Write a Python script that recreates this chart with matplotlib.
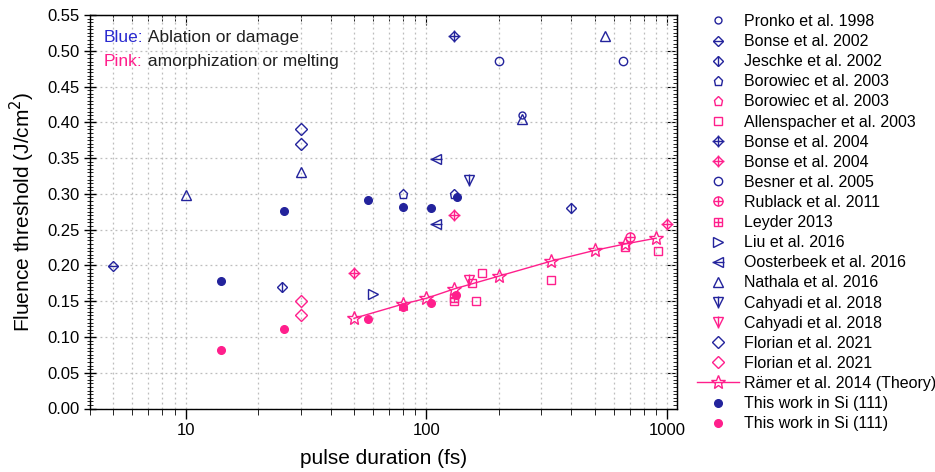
import matplotlib
matplotlib.use("Agg")
import matplotlib.pyplot as plt
from matplotlib.ticker import MultipleLocator, LogLocator, NullFormatter, FixedLocator, FixedFormatter
from matplotlib.legend_handler import HandlerTuple

plt.rcParams['font.family'] = ['Liberation Sans', 'DejaVu Sans']

BLUE = '#23239c'
PINK = '#ff1f8c'

# ---------------- data ----------------
pronko_x = [250]; pronko_y = [0.410]
bonse02_x = [5]; bonse02_y = [0.199]
jeschke_x = [25, 400]; jeschke_y = [0.170, 0.280]
borow_b_x = [80, 130]; borow_b_y = [0.300, 0.300]
borow_p_x = []; borow_p_y = []
allen_x = [130, 155, 160, 170, 330, 668, 920]
allen_y = [0.150, 0.175, 0.150, 0.190, 0.179, 0.226, 0.220]
bonse04_b_x = [130]; bonse04_b_y = [0.520]
bonse04_p_x = [50, 130, 1000]; bonse04_p_y = [0.190, 0.270, 0.258]
besner_x = [200, 655]; besner_y = [0.486, 0.486]
rublack_x = [700]; rublack_y = [0.240]
leyder_x = [130]; leyder_y = [0.155]
liu_x = [60]; liu_y = [0.160]
ooster_x = [110, 110]; ooster_y = [0.349, 0.258]
nathala_x = [10, 30, 250, 550]; nathala_y = [0.298, 0.330, 0.405, 0.520]
cahyadi_b_x = [150]; cahyadi_b_y = [0.320]
cahyadi_p_x = [150]; cahyadi_p_y = [0.179]
florian_b_x = [30, 30]; florian_b_y = [0.390, 0.370]
florian_p_x = [30, 30]; florian_p_y = [0.150, 0.130]
ramer_x = [50, 80, 100, 130, 200, 330, 500, 670, 900]
ramer_y = [0.126, 0.146, 0.154, 0.167, 0.185, 0.206, 0.221, 0.230, 0.238]
work_b_x = [14, 25.6, 57, 80, 105, 134]
work_b_y = [0.178, 0.276, 0.292, 0.281, 0.280, 0.296]
work_p_x = [14, 25.6, 57, 80, 105, 133]
work_p_y = [0.082, 0.111, 0.125, 0.142, 0.147, 0.158]

labels = ["Pronko et al. 1998", "Bonse et al. 2002", "Jeschke et al. 2002",
          "Borowiec et al. 2003", "Borowiec et al. 2003", "Allenspacher et al. 2003",
          "Bonse et al. 2004", "Bonse et al. 2004", "Besner et al. 2005",
          "Rublack et al. 2011", "Leyder 2013", "Liu et al. 2016",
          "Oosterbeek et al. 2016", "Nathala et al. 2016", "Cahyadi et al. 2018",
          "Cahyadi et al. 2018", "Florian et al. 2021", "Florian et al. 2021",
          "Rämer et al. 2014 (Theory)", "This work in Si (111)", "This work in Si (111)"]

xticks = [10, 100, 1000]
xticklabels = ["10", "100", "1000"]

# ---------------- figure ----------------
fig = plt.figure(figsize=(9.35, 4.72), dpi=100)
ax = fig.add_axes([90/935, 1 - 408.5/472, (677-90)/935, (408.5-15)/472])

def series(x, y, color, markers, ms=6, mew=1.0, filled=False, ls='none'):
    arts = []
    for i, m in enumerate(markers):
        if isinstance(m, tuple):
            m, s = m
        else:
            s = ms
        fc = color if (filled and i == 0) else 'none'
        if m in ('+', '_', '|', 'x'):
            fc = color
        line, = ax.plot(x, y, ls=ls if i == 0 else 'none', color=color, marker=m,
                        ms=s, mfc=fc, mec=color, mew=mew, lw=1.0, clip_on=False)
        arts.append(line)
    return tuple(arts)

handles = []
handles.append(series(pronko_x, pronko_y, BLUE, [('o', 5)]))
handles.append(series(bonse02_x, bonse02_y, BLUE, [('D', 5.5), ('_', 7)]))
handles.append(series(jeschke_x, jeschke_y, BLUE, [('D', 5.5), ('|', 7)]))
handles.append(series(borow_b_x, borow_b_y, BLUE, [('p', 6.5)]))
handles.append(series(borow_p_x, borow_p_y, PINK, [('p', 6.5)]))
handles.append(series(allen_x, allen_y, PINK, [('s', 6)]))
handles.append(series(bonse04_b_x, bonse04_b_y, BLUE, [('D', 5.5), ('+', 8)]))
handles.append(series(bonse04_p_x, bonse04_p_y, PINK, [('D', 5.5), ('+', 8)]))
handles.append(series(besner_x, besner_y, BLUE, [('o', 6)]))
handles.append(series(rublack_x, rublack_y, PINK, [('o', 6.5), ('+', 6.5)]))
handles.append(series(leyder_x, leyder_y, PINK, [('s', 6), ('+', 6)]))
handles.append(series(liu_x, liu_y, BLUE, [('>', 6.5)]))
handles.append(series(ooster_x, ooster_y, BLUE, [('<', 6.5), ('_', 8)]))
handles.append(series(nathala_x, nathala_y, BLUE, [('^', 7.5)]))
handles.append(series(cahyadi_b_x, cahyadi_b_y, BLUE, [('v', 7), ('|', 9)]))
handles.append(series(cahyadi_p_x, cahyadi_p_y, PINK, [('v', 7), ('|', 9)]))
handles.append(series(florian_b_x, florian_b_y, BLUE, [('D', 6.5)]))
handles.append(series(florian_p_x, florian_p_y, PINK, [('D', 6.5)]))
handles.append(series(ramer_x, ramer_y, PINK, [('*', 10)], ls='-'))
handles.append(series(work_b_x, work_b_y, BLUE, [('o', 5.5)], filled=True))
handles.append(series(work_p_x, work_p_y, PINK, [('o', 5.5)], filled=True))

# ---------------- axes ----------------
ax.set_xscale('log')
ax.set_xlim(4, 1100)
ax.set_ylim(0, 0.55)
ax.xaxis.set_major_locator(FixedLocator(xticks))
ax.xaxis.set_major_formatter(FixedFormatter(xticklabels))
ax.xaxis.set_minor_locator(LogLocator(base=10, subs=range(2, 10), numticks=20))
ax.xaxis.set_minor_formatter(NullFormatter())
ax.yaxis.set_major_locator(MultipleLocator(0.05))
ax.yaxis.set_minor_locator(MultipleLocator(0.005))
ax.yaxis.set_major_formatter(plt.FuncFormatter(lambda v, p: f"{v:.2f}"))

ax.grid(True, which='major', axis='both', ls=(0, (1.5, 2.5)), color='#bdbdbd', lw=0.9)
ax.grid(True, which='minor', axis='x', ls=(0, (1.5, 2.5)), color='#bdbdbd', lw=0.9)
ax.set_axisbelow(True)

ax.tick_params(axis='both', which='major', labelsize=12, width=1, color='black')
ax.tick_params(axis='x', which='major', direction='out', length=7)
ax.tick_params(axis='x', which='minor', direction='out', length=4)
ax.tick_params(axis='y', which='major', direction='inout', length=8)
ax.tick_params(axis='y', which='minor', direction='inout', length=4)
for sp in ax.spines.values():
    sp.set_linewidth(1.0)

# top and right axes with inward ticks
top = ax.secondary_xaxis('top')
top.set_xticks(xticks)
top.xaxis.set_minor_locator(LogLocator(base=10, subs=range(2, 10), numticks=20))
top.xaxis.set_minor_formatter(NullFormatter())
top.tick_params(axis='x', which='major', direction='in', length=7, labeltop=False)
top.tick_params(axis='x', which='minor', direction='in', length=4)
right = ax.secondary_yaxis('right')
right.yaxis.set_major_locator(MultipleLocator(0.05))
right.yaxis.set_minor_locator(MultipleLocator(0.005))
right.tick_params(axis='y', which='major', direction='in', length=7, labelright=False)
right.tick_params(axis='y', which='minor', direction='in', length=3)

ax.set_xlabel("pulse duration (fs)", fontsize=15, labelpad=8)
ax.set_ylabel("Fluence threshold (J/cm$^2$)", fontsize=15, labelpad=7)

# annotation text
t1 = ax.text(0.024, 0.942, "Blue:", color='#2a2ad0', fontsize=12.5,
             transform=ax.transAxes, va='center', ha='left')
ax.annotate(" Ablation or damage", xy=(1, 0.5), xycoords=t1, va='center', ha='left',
            fontsize=12.5, color='#202020')
t2 = ax.text(0.024, 0.883, "Pink:", color=PINK, fontsize=12.5,
             transform=ax.transAxes, va='center', ha='left')
ax.annotate(" amorphization or melting", xy=(1, 0.5), xycoords=t2, va='center', ha='left',
            fontsize=12.5, color='#202020')

fig.legend(handles, labels, loc='upper left', bbox_to_anchor=(697/935, 1 - 14/472),
           frameon=False, fontsize=11.5, numpoints=1, handlelength=2.6,
           handletextpad=0.35, labelspacing=0.32, borderpad=0, borderaxespad=0,
           handler_map={tuple: HandlerTuple(ndivide=1)})

fig.savefig("out.png", dpi=100)
